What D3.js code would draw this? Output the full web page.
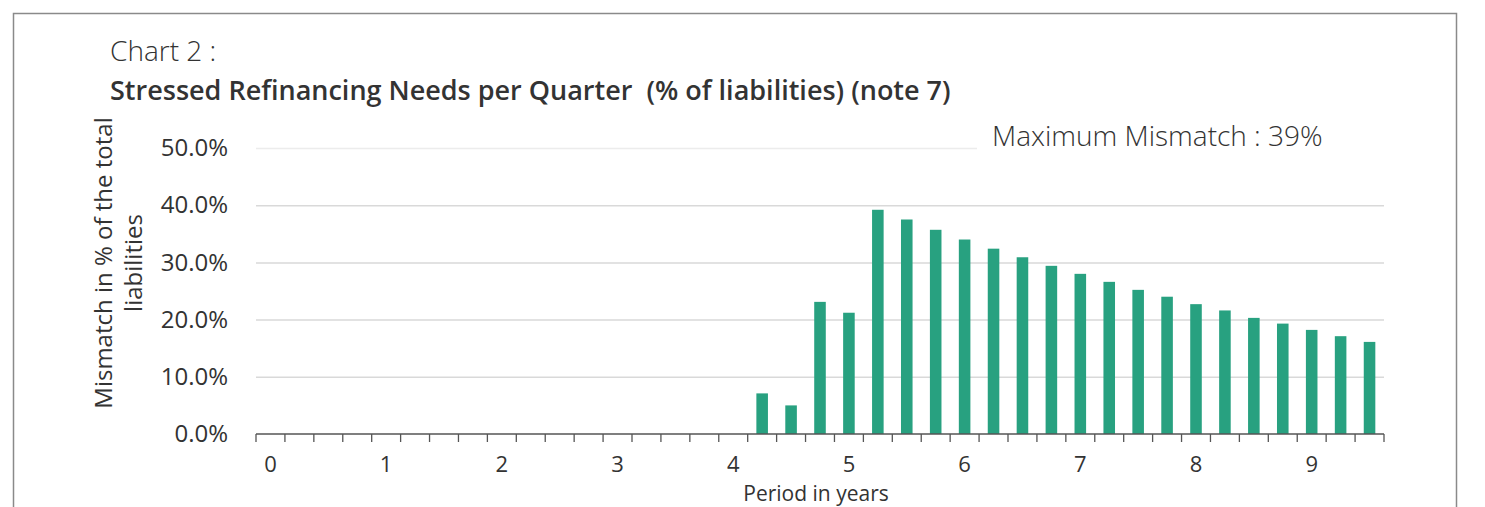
<!DOCTYPE html>
<html>
<head>
<meta charset="utf-8">
<script src="https://cdn.jsdelivr.net/npm/d3@7"></script>
<style>
  body { margin: 0; background: #fff; }
  text { font-family: "Open Sans", "Noto Sans", sans-serif; fill: #333; }
</style>
</head>
<body>
<div id="chart"></div>
<script>

  // quarters from 0 to 9.5 years
  var periods = [0, 0.25, 0.5, 0.75, 1, 1.25, 1.5, 1.75, 2, 2.25, 2.5, 2.75,
    3, 3.25, 3.5, 3.75, 4, 4.25, 4.5, 4.75, 5, 5.25, 5.5, 5.75, 6, 6.25,
    6.5, 6.75, 7, 7.25, 7.5, 7.75, 8, 8.25, 8.5, 8.75, 9, 9.25, 9.5]

  // stressed mismatch as share of total liabilities
  var mismatch = [0, 0, 0, 0, 0, 0, 0, 0, 0, 0, 0, 0,
    0, 0, 0, 0, 0, 0.071, 0.050, 0.231, 0.212, 0.392, 0.375, 0.357, 0.340, 0.324,
    0.309, 0.294, 0.280, 0.266, 0.252, 0.240, 0.227, 0.216, 0.203, 0.193, 0.182, 0.171, 0.161]

  // labelled years on x axis
  var yearLabels = [0, 1, 2, 3, 4, 5, 6, 7, 8, 9]

  // y ticks
  var yTicks = [0, 0.1, 0.2, 0.3, 0.4, 0.5]

  var data = periods.map(function(p, i){ return {key: p, value: mismatch[i]} })

  var W = 1485, H = 507
  var margin = {top: 148, left: 256}
  var width = 1128, height = 286

  var svg = d3.select("#chart").append("svg")
    .attr("width", W)
    .attr("height", H)

  // outer frame
  svg.append("path")
    .attr("d", "M13.5,520 V13.5 H1456.5 V520")
    .attr("fill", "none")
    .attr("stroke", "#8a8a8a")
    .attr("stroke-width", 1.5)

  // titles
  svg.append("text")
    .attr("x", 110)
    .attr("y", 61)
    .style("font-size", "28px")
    .style("font-weight", 300)
    .text("Chart 2 :")

  svg.append("text")
    .attr("x", 110)
    .attr("y", 100)
    .style("font-size", "27px")
    .style("font-weight", 600)
    .style("white-space", "pre")
    .text("Stressed Refinancing Needs per Quarter  (% of liabilities) (note 7)")

  var plot = svg.append("g")
    .attr("transform", "translate(" + margin.left + "," + margin.top + ")")

  var x = d3.scaleBand()
    .domain(periods)
    .range([0, width])
    .paddingInner(0.6)
    .paddingOuter(0.3)

  var y = d3.scaleLinear()
    .domain([0, 0.5])
    .range([height, 0])

  // gridlines
  plot.append("g")
    .attr("class", "grid")
    .call(d3.axisLeft(y).tickValues(yTicks.slice(1)).tickSize(-width).tickFormat(""))
    .call(function(g){ g.select(".domain").remove() })
    .selectAll("line")
    .attr("stroke", function(d){ return d == 0.5 ? "#ececec" : "#d9d9d9" })
    .attr("stroke-width", 1.5)

  // white box behind the annotation
  svg.append("rect")
    .attr("x", 977)
    .attr("y", 112)
    .attr("width", 440)
    .attr("height", 50)
    .attr("fill", "#fff")

  svg.append("text")
    .attr("x", 992)
    .attr("y", 146)
    .style("font-size", "28px")
    .style("font-weight", 300)
    .text("Maximum Mismatch : 39%")

  // y labels
  plot.append("g")
    .call(d3.axisLeft(y).tickValues(yTicks).tickSize(0).tickPadding(28).tickFormat(d3.format(".1%")))
    .call(function(g){ g.select(".domain").remove() })
    .selectAll("text")
    .style("font-size", "24px")
    .style("font-family", "'Open Sans', 'Noto Sans', sans-serif")
    .attr("fill", "#333")

  // bars
  plot.selectAll(".bar")
    .data(data)
    .enter().append("rect")
    .attr("class", "bar")
    .attr("x", function(d){ return x(d.key) })
    .attr("width", x.bandwidth())
    .attr("y", function(d){ return y(d.value) })
    .attr("height", function(d){ return height - y(d.value) })
    .attr("fill", "#28a180")

  // x axis line with ticks at category edges
  var edges = d3.range(periods.length + 1).map(function(i){ return i * x.step() })
  var xAxis = plot.append("g")
    .attr("transform", "translate(0," + height + ")")

  xAxis.append("line")
    .attr("x1", 0)
    .attr("x2", width)
    .attr("stroke", "#555")
    .attr("stroke-width", 1.5)

  xAxis.selectAll(".tick")
    .data(edges)
    .enter().append("line")
    .attr("x1", function(d){ return d })
    .attr("x2", function(d){ return d })
    .attr("y1", 0)
    .attr("y2", 8)
    .attr("stroke", "#555")
    .attr("stroke-width", 1.3)

  xAxis.selectAll(".xlabel")
    .data(yearLabels)
    .enter().append("text")
    .attr("class", "xlabel")
    .attr("x", function(d){ return x(d) + x.bandwidth() / 2 })
    .attr("y", 38)
    .style("text-anchor", "middle")
    .style("font-size", "22px")
    .text(function(d){ return d })

  // axis titles
  svg.append("text")
    .attr("x", 816)
    .attr("y", 501)
    .style("text-anchor", "middle")
    .style("font-size", "21px")
    .text("Period in years")

  var yTitle = svg.append("text")
    .attr("transform", "translate(112,263) rotate(-90)")
    .style("text-anchor", "middle")
    .style("font-size", "24px")

  yTitle.append("tspan")
    .attr("x", 0)
    .attr("y", 0)
    .text("Mismatch in % of the total")

  yTitle.append("tspan")
    .attr("x", 0)
    .attr("y", 30)
    .text("liabilities")

</script>
</body>
</html>
